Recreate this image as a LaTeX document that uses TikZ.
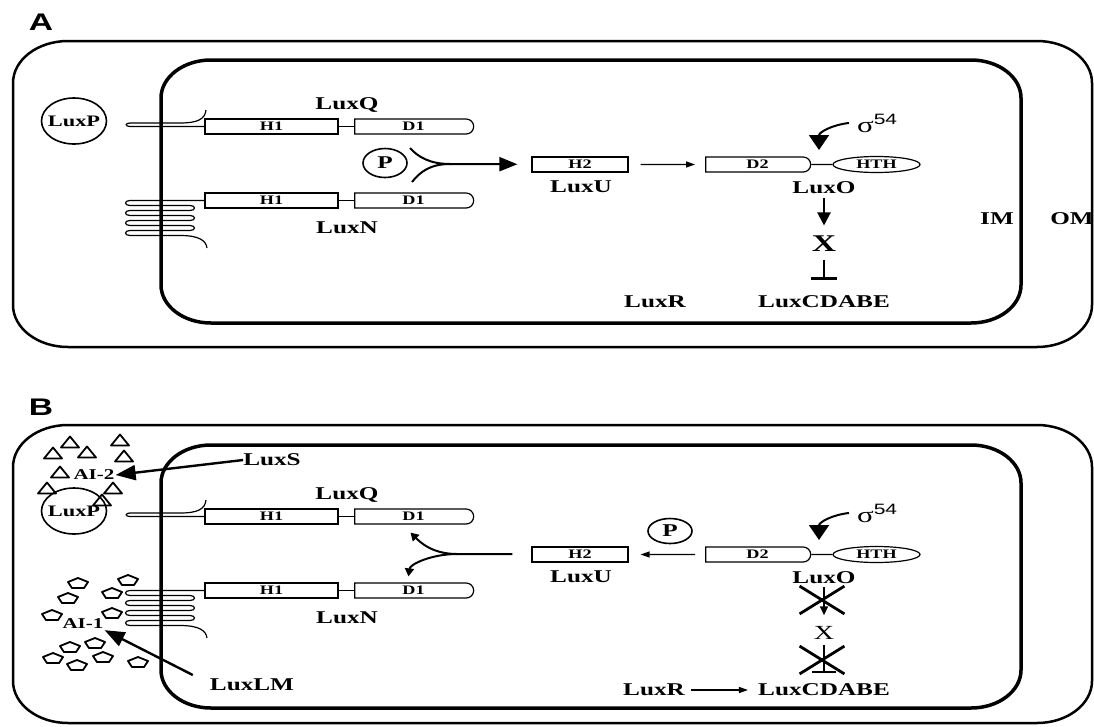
\documentclass[tikz,border=0pt]{standalone}
\usepackage{fontspec}
\setmainfont{Liberation Serif}[FakeStretch=1.4]
\setsansfont{Liberation Sans}[FakeStretch=1.4]
\usetikzlibrary{arrows.meta, shapes.geometric, shapes.misc}

% rounded cell envelope with elliptic corners: style, x1, y1, x2, y2, rx, ry
\newcommand{\cellwall}[7]{%
  \draw[#1] (#2+#6,#3) -- (#4-#6,#3)
    .. controls (#4-0.448*#6,#3) and (#4,#3+0.448*#7) .. (#4,#3+#7)
    -- (#4,#5-#7)
    .. controls (#4,#5-0.448*#7) and (#4-0.448*#6,#5) .. (#4-#6,#5)
    -- (#2+#6,#5)
    .. controls (#2+0.448*#6,#5) and (#2,#5-0.448*#7) .. (#2,#5-#7)
    -- (#2,#3+#7)
    .. controls (#2,#3+0.448*#7) and (#2+0.448*#6,#3) .. (#2+#6,#3) -- cycle;}

\tikzset{
    lbl/.style={inner sep=0pt, font=\bfseries\fontsize{18}{18}\selectfont}, % protein names
    dom/.style={draw, line width=1.2pt, minimum height=15pt, inner sep=0pt,
                font=\bfseries\fontsize{13}{13}\selectfont}, % H1, H2 boxes
    dtail/.style={dom, rounded rectangle, rounded rectangle west arc=none}, % D1, D2 receivers
    blob/.style={draw, ellipse, line width=1.6pt, inner sep=0pt,
                 font=\bfseries\fontsize{18}{18}\selectfont}, % LuxP and P
    wire/.style={line width=1.2pt}, % thin protein lines
    push/.style={line width=2pt, -{Triangle[length=18pt,width=14pt]}},
    thinarrow/.style={line width=1.3pt, -{Triangle[length=9pt,width=6pt]}},
    drop/.style={line width=2.2pt, -{Triangle[length=13pt,width=13pt]}},
    shoot/.style={line width=2.4pt, -{Triangle[length=20pt,width=15pt]}},
    forkarrow/.style={line width=2pt, -{Triangle[length=8pt,width=9pt]}},
    block/.style={cross out, draw, line width=2.8pt, minimum width=42pt,
                  minimum height=25pt, inner sep=0pt}, % crossed out step
    ai/.style={line width=1.8pt, line join=round}, % autoinducer molecules
}

\begin{document}
\begin{tikzpicture}[x=1pt, y=-1pt]
\fill[white] (0,0) rectangle (1094,726);
\useasboundingbox (0,0) rectangle (1094,726);

% outer and inner membranes
\cellwall{line width=2.5pt}{13}{41}{1092}{347}{55}{42}
\cellwall{line width=3.5pt}{161}{60}{1021}{323}{50}{38}
\cellwall{line width=2.5pt}{13}{425}{1092}{723}{55}{42}
\cellwall{line width=3.5pt}{161}{445}{1021}{708}{50}{38}

% parts shared by both panels
\foreach \dy/\pn in {0/a, 390/b} {
  \node[lbl] (luxq\pn) at (347,105+\dy) {LuxQ};
  \node[dom, minimum width=133pt] (qh\pn) at (271.5,126.5+\dy) {H1};
  \node[dtail, minimum width=119pt] (qd\pn) at (413.5,126.5+\dy) {D1};
  \node[dom, minimum width=133pt] (nh\pn) at (271.5,200.5+\dy) {H1};
  \node[dtail, minimum width=119pt] (nd\pn) at (413.5,200.5+\dy) {D1};
  \node[lbl] (luxn\pn) at (347,228+\dy) {LuxN};
  \draw[wire] (qh\pn) -- (qd\pn);
  \draw[wire] (nh\pn) -- (nd\pn);
  % LuxQ hairpin and hook
  \draw[wire] (qh\pn.west) -- (130,126.5+\dy)
    .. controls (125,126.5+\dy) and (125,123+\dy) .. (130,123+\dy) -- (180,123+\dy)
    .. controls (198,123+\dy) and (205,119+\dy) .. (206,110+\dy);
  % LuxN membrane loops
  \draw[wire] (nh\pn.west) -- (130,200.5+\dy)
    foreach \k in {0,10,20} {
      .. controls (124,200.5+\k+\dy) and (124,205.5+\k+\dy) .. (130,205.5+\k+\dy) -- (190,205.5+\k+\dy)
      .. controls (196,205.5+\k+\dy) and (196,210.5+\k+\dy) .. (190,210.5+\k+\dy) -- (130,210.5+\k+\dy)
    }
    .. controls (124,230.5+\dy) and (124,235.5+\dy) .. (130,235.5+\dy) -- (180,235.5+\dy)
    .. controls (198,235.5+\dy) and (206,240+\dy) .. (207,248+\dy);
  \node[blob, inner xsep=-6pt, minimum width=65pt, minimum height=46pt,
        font=\bfseries\fontsize{16}{16}\selectfont] (luxp\pn) at (74,121+\dy) {LuxP};
  % LuxU and LuxO
  \node[dom, minimum width=96pt] (h2\pn) at (580,164.5+\dy) {H2};
  \node[lbl] (luxu\pn) at (581,187+\dy) {LuxU};
  \node[dtail, minimum width=105pt] (d2\pn) at (757.5,164.5+\dy) {D2};
  \node[dom, ellipse, minimum width=87pt, minimum height=16pt] (hth\pn) at (876.5,164.5+\dy) {HTH};
  \draw[wire] (d2\pn) -- (hth\pn);
  \node[lbl] (luxo\pn) at (824,188+\dy) {LuxO};
  \node[inner sep=0pt, anchor=base west] (sig\pn) at (857,132+\dy)
    {\fontsize{22}{22}\selectfont σ\raisebox{8pt}{\sffamily\fontsize{15}{15}\selectfont 54}};
  \coordinate (sigtip\pn) at (819,150+\dy);
  \draw[line width=2pt, -{Triangle[length=15pt,width=20pt]}]
    ([xshift=-8pt]sig\pn.west) .. controls (832,125+\dy) and (819,132+\dy) .. (sigtip\pn);
}

% panel A
\node[font=\sffamily\bfseries\fontsize{24}{24}\selectfont] (taga) at (41,22) {A};
\node[blob, minimum width=44pt, minimum height=29pt] (pa) at (385,163) {P};
\coordinate (fa1) at (410,148);
\coordinate (fa2) at (412,182);
\coordinate (forka) at (450,164);
\draw[line width=2pt] (fa1) .. controls (418,157) and (430,164) .. (forka);
\draw[line width=2pt] (fa2) .. controls (420,172) and (430,164) .. (forka);
\draw[push, shorten >=14pt] (forka) -- (h2a);
\draw[thinarrow, shorten <=12pt, shorten >=10pt] (h2a) -- (d2a);
\node[inner sep=0pt, font=\bfseries\fontsize{24}{24}\selectfont] (xa) at (824,243.5) {X};
\node[lbl] (luxra) at (655,302) {LuxR};
\node[lbl] (cdabea) at (824,302) {LuxCDABE};
\draw[drop, shorten <=4pt, shorten >=10pt] (luxoa.south) -- (xa.north);
\draw[line width=2.2pt, -{Bar[width=26pt,line width=2.5pt]}, shorten <=8pt, shorten >=16pt]
  (xa.south) -- (cdabea.north);
\node[lbl] (im) at (997,219) {IM};
\node[lbl] (om) at (1072,219) {OM};

% panel B
\node[font=\sffamily\bfseries\fontsize{24}{24}\selectfont] (tagb) at (41,407) {B};
\foreach \x/\y in {70/442, 120/440, 53/453, 87/452, 124/456, 60/472, 47/488, 113/488, 102/500}
  \draw[ai] (\x-9,\y+5.5) -- (\x,\y-5.5) -- (\x+9,\y+5.5) -- cycle;
\foreach \x/\y in {78/583, 128/580, 68/598, 112/593, 52/615, 112/613,
                   70/647, 95/643, 53/658, 77/665, 103/657, 138/662}
  \draw[ai] (\x,\y-5) -- (\x+10,\y-1) -- (\x+6,\y+5) -- (\x-6,\y+5) -- (\x-10,\y-1) -- cycle;
\node[inner sep=1pt, font=\bfseries\fontsize{15}{15}\selectfont] (ai2) at (94,475) {AI-2};
\node[inner sep=1pt, font=\bfseries\fontsize{15}{15}\selectfont] (ai1) at (83,624) {AI-1};
\node[lbl] (luxs) at (272,460) {LuxS};
\node[lbl] (luxlm) at (252,685) {LuxLM};
\draw[shoot] (luxs.west) -- (ai2.east);
\draw[shoot] ([xshift=-17pt,yshift=10pt]luxlm.west) -- (ai1.south east);
\node[blob, minimum width=44pt, minimum height=25pt] (pb) at (670,531) {P};
\draw[thinarrow, shorten <=10pt, shorten >=12pt] (d2b) -- (h2b);
\coordinate (forkb) at (457,554);
\draw[line width=2pt, shorten <=19pt] (h2b) -- (forkb);
\draw[forkarrow] (forkb) .. controls (432,554) and (420,542) .. ([xshift=-3pt,yshift=-8pt]qdb.south);
\draw[forkarrow] (forkb) .. controls (432,554) and (410,564) .. ([xshift=-5pt,yshift=6pt]ndb.north);
\node[inner sep=0pt, font=\fontsize{20}{20}\selectfont] (xb) at (824,633) {X};
\node[lbl] (luxrb) at (654,690) {LuxR};
\node[lbl] (cdabeb) at (824,690) {LuxCDABE};
\draw[line width=1.6pt, -{Triangle[length=9pt,width=8pt]}, shorten <=3pt, shorten >=11pt]
  (luxob.south) -- (xb.north);
\node[block] (cut1) at (822,600) {};
\draw[line width=1.6pt, -{Bar[width=24pt,line width=1.6pt]}, shorten <=5pt, shorten >=11pt]
  (xb.south) -- (cdabeb.north);
\node[block] (cut2) at (822,660) {};
\draw[thinarrow, shorten <=6pt, shorten >=10pt] (luxrb) -- (cdabeb);
\end{tikzpicture}
\end{document}
